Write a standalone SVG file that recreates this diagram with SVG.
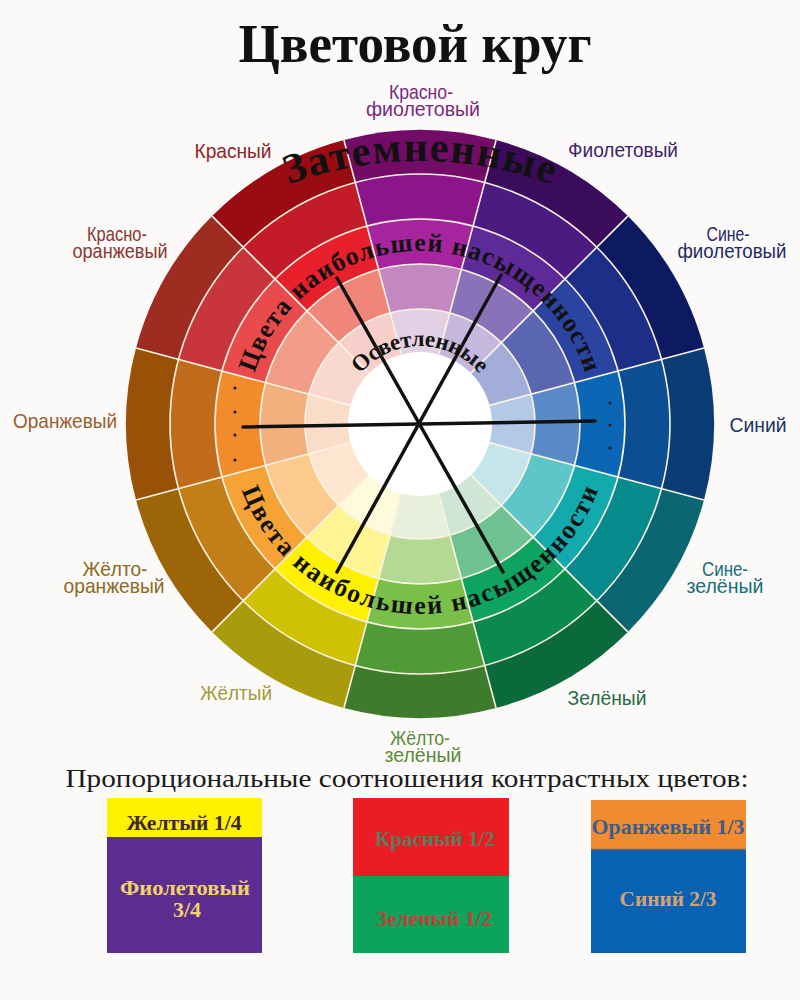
<svg xmlns="http://www.w3.org/2000/svg" xmlns:xlink="http://www.w3.org/1999/xlink" width="800" height="1000" viewBox="0 0 800 1000">
<style>
.lbl{font-family:"Liberation Sans",Arial,sans-serif;font-size:21px;text-anchor:middle}
.cap{font-family:"Liberation Serif","Times New Roman",serif;font-weight:bold;fill:#111}
.sep{fill:none;stroke:#fbf3e3;stroke-width:1.6}
.box{font-family:"Liberation Serif","Times New Roman",serif;font-weight:bold;font-size:22px;text-anchor:middle}
</style>
<defs>
<path id="w5" d="M0 0 L-76.09 -283.98 A294 294 0 0 1 76.09 -283.98 Z"/>
<path id="w4" d="M0 0 L-64.70 -241.48 A250 250 0 0 1 64.70 -241.48 Z"/>
<path id="w3" d="M0 0 L-53.06 -198.01 A205 205 0 0 1 53.06 -198.01 Z"/>
<path id="w2" d="M0 0 L-41.41 -154.55 A160 160 0 0 1 41.41 -154.55 Z"/>
<path id="w1" d="M0 0 L-29.76 -111.08 A115 115 0 0 1 29.76 -111.08 Z"/>
<line id="rad" x1="0" y1="-72" x2="0" y2="-294"/>
<path id="pTop" d="M270 191.9 A380 380 0 0 1 570 191.9"/>
<path id="pSatTop" d="M250.8 388 A173 173 0 0 1 589.2 388"/>
<path id="pSatBot" d="M232.9 457.2 A190 190 0 0 0 607.1 457.2"/>
<path id="pLight" d="M343.2 410.5 A78 78 0 0 1 496.8 410.5"/>
</defs>
<rect width="800" height="1000" fill="#fbfaf8"/>
<g id="title"><text x="415" y="62" font-family="'Liberation Serif','Times New Roman',serif" font-size="54" font-weight="bold" text-anchor="middle" fill="#111" textLength="353" lengthAdjust="spacingAndGlyphs">Цветовой круг</text></g>
<g id="wheel" transform="translate(420,424)">
<g id="seg-red-violet"><use href="#w5" fill="#720c66"/><use href="#w4" fill="#8c158c"/><use href="#w3" fill="#a6259f"/><use href="#w2" fill="#c388c0"/><use href="#w1" fill="#e2d0e4"/></g>
<g id="seg-violet" transform="rotate(30)"><use href="#w5" fill="#3b0b5c"/><use href="#w4" fill="#4b1b82"/><use href="#w3" fill="#5e2a98"/><use href="#w2" fill="#8a72b8"/><use href="#w1" fill="#c6b8dc"/></g>
<g id="seg-blue-violet" transform="rotate(60)"><use href="#w5" fill="#0d1a62"/><use href="#w4" fill="#1d2e88"/><use href="#w3" fill="#2b44a2"/><use href="#w2" fill="#5a66b2"/><use href="#w1" fill="#a2aed8"/></g>
<g id="seg-blue" transform="rotate(90)"><use href="#w5" fill="#0b3c76"/><use href="#w4" fill="#0b4e92"/><use href="#w3" fill="#0b66b6"/><use href="#w2" fill="#5a8ac8"/><use href="#w1" fill="#b4c8e8"/></g>
<g id="seg-blue-green" transform="rotate(120)"><use href="#w5" fill="#0a6670"/><use href="#w4" fill="#078a8c"/><use href="#w3" fill="#12aaad"/><use href="#w2" fill="#5cc6c8"/><use href="#w1" fill="#c4e6ea"/></g>
<g id="seg-green" transform="rotate(150)"><use href="#w5" fill="#0b6a3c"/><use href="#w4" fill="#0a8a4c"/><use href="#w3" fill="#0fa362"/><use href="#w2" fill="#6fc292"/><use href="#w1" fill="#cfe6d6"/></g>
<g id="seg-yellow-green" transform="rotate(180)"><use href="#w5" fill="#3f7b2d"/><use href="#w4" fill="#4f9b37"/><use href="#w3" fill="#7abf4a"/><use href="#w2" fill="#b4d994"/><use href="#w1" fill="#e7f0da"/></g>
<g id="seg-yellow" transform="rotate(210)"><use href="#w5" fill="#a89c0c"/><use href="#w4" fill="#cfc104"/><use href="#w3" fill="#fff100"/><use href="#w2" fill="#fff492"/><use href="#w1" fill="#fefbdc"/></g>
<g id="seg-yellow-orange" transform="rotate(240)"><use href="#w5" fill="#9c6508"/><use href="#w4" fill="#c27f18"/><use href="#w3" fill="#f5a236"/><use href="#w2" fill="#fdca8e"/><use href="#w1" fill="#fde5cf"/></g>
<g id="seg-orange" transform="rotate(270)"><use href="#w5" fill="#995108"/><use href="#w4" fill="#c06c1c"/><use href="#w3" fill="#f28b2c"/><use href="#w2" fill="#f2b07e"/><use href="#w1" fill="#fbdcc9"/></g>
<g id="seg-red-orange" transform="rotate(300)"><use href="#w5" fill="#9e2c20"/><use href="#w4" fill="#c8353d"/><use href="#w3" fill="#e94a4b"/><use href="#w2" fill="#f29c8a"/><use href="#w1" fill="#f8d8cf"/></g>
<g id="seg-red" transform="rotate(330)"><use href="#w5" fill="#9b0b12"/><use href="#w4" fill="#c31b27"/><use href="#w3" fill="#e8202c"/><use href="#w2" fill="#f08579"/><use href="#w1" fill="#f6cfcb"/></g>
<circle r="72" fill="#ffffff"/>
<g id="separators" class="sep">
<circle r="115"/><circle r="160"/><circle r="205"/><circle r="250"/>
<use href="#rad" transform="rotate(-15)"/><use href="#rad" transform="rotate(15)"/><use href="#rad" transform="rotate(45)"/><use href="#rad" transform="rotate(75)"/><use href="#rad" transform="rotate(105)"/><use href="#rad" transform="rotate(135)"/><use href="#rad" transform="rotate(165)"/><use href="#rad" transform="rotate(195)"/><use href="#rad" transform="rotate(225)"/><use href="#rad" transform="rotate(255)"/><use href="#rad" transform="rotate(285)"/><use href="#rad" transform="rotate(315)"/>
</g>
</g>
<g id="ring-captions">
<text class="cap" font-size="42"><textPath href="#pTop" startOffset="50%" text-anchor="middle" textLength="268" lengthAdjust="spacing">Затемненные</textPath></text>
<text class="cap" font-size="26"><textPath href="#pSatTop" startOffset="50%" text-anchor="middle" textLength="440" lengthAdjust="spacing">Цвета наибольшей насыщенности</textPath></text>
<text class="cap" font-size="26"><textPath href="#pSatBot" startOffset="50%" text-anchor="middle" textLength="462" lengthAdjust="spacing">Цвета наибольшей насыщенности</textPath></text>
<text class="cap" font-size="23"><textPath href="#pLight" startOffset="50%" text-anchor="middle" textLength="136" lengthAdjust="spacing">Осветленные</textPath></text>
</g>
<g id="connectors" stroke="#111" stroke-width="3.5" stroke-linecap="round" fill="none">
<line x1="243" y1="427" x2="595" y2="421"/>
<line x1="337" y1="278" x2="503" y2="572"/>
<line x1="501" y1="275" x2="337" y2="572"/>
</g>
<g id="dots" fill="#222">
<circle cx="235" cy="388" r="1.6"/><circle cx="235" cy="412" r="1.6"/><circle cx="235" cy="435" r="1.6"/><circle cx="235" cy="460" r="1.6"/>
<circle cx="610" cy="403" r="1.6"/><circle cx="610" cy="425" r="1.6"/><circle cx="610" cy="448" r="1.6"/>
</g>
<g id="labels" class="lbl">
<g id="lbl-red-violet" fill="#7a2a7e"><text x="421" y="99" textLength="64" lengthAdjust="spacingAndGlyphs">Красно-</text><text x="423" y="116" textLength="114" lengthAdjust="spacingAndGlyphs">фиолетовый</text></g>
<g id="lbl-red" fill="#8e2426"><text x="233" y="158" textLength="77" lengthAdjust="spacingAndGlyphs">Красный</text></g>
<g id="lbl-red-orange" fill="#8a3530"><text x="117" y="241" textLength="60" lengthAdjust="spacingAndGlyphs">Красно-</text><text x="120" y="258" textLength="95" lengthAdjust="spacingAndGlyphs">оранжевый</text></g>
<g id="lbl-orange" fill="#9a5e2e"><text x="65" y="428" textLength="104" lengthAdjust="spacingAndGlyphs">Оранжевый</text></g>
<g id="lbl-yellow-orange" fill="#8c6a22"><text x="115" y="576" textLength="65" lengthAdjust="spacingAndGlyphs">Жёлто-</text><text x="114" y="593" textLength="101" lengthAdjust="spacingAndGlyphs">оранжевый</text></g>
<g id="lbl-yellow" fill="#a39a3e"><text x="236" y="700" textLength="72" lengthAdjust="spacingAndGlyphs">Жёлтый</text></g>
<g id="lbl-yellow-green" fill="#5b8a3c"><text x="420" y="745" textLength="60" lengthAdjust="spacingAndGlyphs">Жёлто-</text><text x="423" y="762" textLength="77" lengthAdjust="spacingAndGlyphs">зелёный</text></g>
<g id="lbl-green" fill="#2a6b48"><text x="607" y="705" textLength="79" lengthAdjust="spacingAndGlyphs">Зелёный</text></g>
<g id="lbl-blue-green" fill="#17707a"><text x="725" y="576" textLength="46" lengthAdjust="spacingAndGlyphs">Сине-</text><text x="725" y="593" textLength="77" lengthAdjust="spacingAndGlyphs">зелёный</text></g>
<g id="lbl-blue" fill="#1b3262"><text x="758" y="432" textLength="57" lengthAdjust="spacingAndGlyphs">Синий</text></g>
<g id="lbl-blue-violet" fill="#1f2a66"><text x="728" y="241" textLength="43" lengthAdjust="spacingAndGlyphs">Сине-</text><text x="732" y="258" textLength="109" lengthAdjust="spacingAndGlyphs">фиолетовый</text></g>
<g id="lbl-violet" fill="#3b1f6b"><text x="623" y="157" textLength="110" lengthAdjust="spacingAndGlyphs">Фиолетовый</text></g>
</g>
<g id="subtitle"><text x="407" y="787" font-family="'Liberation Serif','Times New Roman',serif" font-size="26" text-anchor="middle" fill="#1a1a1a" textLength="683" lengthAdjust="spacingAndGlyphs">Пропорциональные соотношения контрастных цветов:</text></g>
<g id="legend">
<g id="box-yellow-violet">
<rect x="107" y="798" width="155" height="40" fill="#fff200"/>
<rect x="107" y="837" width="155" height="116" fill="#5b2d91"/>
<text class="box" x="184" y="830" fill="#3d2a28" textLength="115" lengthAdjust="spacingAndGlyphs">Желтый 1/4</text>
<text class="box" x="185" y="895" fill="#f2d36b" textLength="130" lengthAdjust="spacingAndGlyphs">Фиолетовый</text>
<text class="box" x="187" y="917" fill="#f2d36b">3/4</text>
</g>
<g id="box-red-green">
<rect x="353" y="798" width="156" height="79" fill="#ec1c24"/>
<rect x="353" y="876" width="156" height="77" fill="#0ba45a"/>
<text class="box" x="435" y="846" fill="#5e7a5c" textLength="120" lengthAdjust="spacingAndGlyphs">Красный 1/2</text>
<text class="box" x="434" y="926" fill="#b5473a" textLength="116" lengthAdjust="spacingAndGlyphs">Зеленый 1/2</text>
</g>
<g id="box-orange-blue">
<rect x="591" y="800" width="155" height="50" fill="#f28a30"/>
<rect x="591" y="849" width="155" height="104" fill="#0862b4"/>
<line x1="591" y1="849.5" x2="746" y2="849.5" stroke="#6f6a60" stroke-width="1.5"/>
<text class="box" x="668" y="834" fill="#3b5d8c" textLength="153" lengthAdjust="spacingAndGlyphs">Оранжевый 1/3</text>
<text class="box" x="668" y="906" fill="#d6a273" textLength="97" lengthAdjust="spacingAndGlyphs">Синий 2/3</text>
</g>
</g>
</svg>
